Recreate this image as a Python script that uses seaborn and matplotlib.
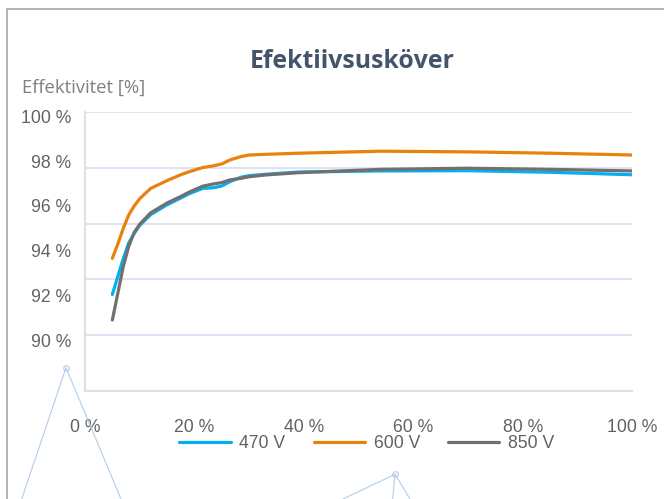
import numpy as np
import pandas as pd
import matplotlib
matplotlib.use("Agg")
import matplotlib.pyplot as plt
import seaborn as sns
from matplotlib.lines import Line2D
from matplotlib.ticker import FixedLocator

# === Data ===
load = [5, 6, 7, 8, 9, 10, 12, 15, 17.5, 19, 21.5, 23.5, 25, 26.5, 28.5, 30, 33, 39, 54, 70, 85, 100]
eff_470 = [92.05, 92.85, 93.65, 94.35, 94.77, 95.13, 95.61, 96.05, 96.35, 96.54, 96.78, 96.81, 96.89,
           97.08, 97.28, 97.35, 97.41, 97.51, 97.56, 97.57, 97.50, 97.39]
eff_600 = [93.66, 94.3, 95.0, 95.6, 96.0, 96.32, 96.78, 97.13, 97.39, 97.52, 97.71, 97.79, 97.87,
           98.05, 98.2, 98.27, 98.3, 98.35, 98.44, 98.41, 98.35, 98.27]
eff_850 = [90.91, 92.1, 93.3, 94.2, 94.82, 95.18, 95.69, 96.13, 96.42, 96.61, 96.88, 96.98, 97.04,
           97.16, 97.23, 97.3, 97.38, 97.48, 97.63, 97.68, 97.63, 97.56]
series = ["470 V", "600 V", "850 V"]
colors = ["#00B0F0", "#E8820C", "#736F6F"]

x_ticks = [0, 20, 40, 60, 80, 100]
y_ticks = [100, 98, 96, 94, 92, 90]

df = pd.DataFrame({
    "Last": load * 3,
    "Effektivitet": eff_470 + eff_600 + eff_850,
    "Spänning": [s for s in series for _ in load],
})

# === Plot ===
sns.set_theme(style="white")
plt.rcParams["font.family"] = ["Liberation Sans", "DejaVu Sans"]

fig = plt.figure(figsize=(6.64, 4.99), dpi=100)
ax = fig.add_axes([0.128, 0.2164, 0.824, 0.5592])

sns.lineplot(data=df, x="Last", y="Effektivitet", hue="Spänning", palette=colors,
             linewidth=2.3, ax=ax, legend=False)

ylo, yhi = 87.74, 100.19
ax.set_xlim(0, 100)
ax.set_ylim(ylo, yhi)

ax.set_xticks(x_ticks)
ax.set_xticklabels([f"{t} %" for t in x_ticks])
ax.set_yticks(y_ticks)
ax.set_yticklabels([f"{t} %" for t in y_ticks])
ax.yaxis.set_minor_locator(FixedLocator(np.linspace(ylo, yhi, 6)[1:]))
ax.grid(False)
ax.grid(which="minor", axis="y", color="#DCE3F2", linewidth=1.5)
ax.tick_params(axis="x", length=0, pad=20, labelsize=12.7, labelcolor="#626262")
ax.tick_params(axis="y", which="both", length=0, pad=10, labelsize=12.7, labelcolor="#626262")
ax.set_xlabel("")
ax.set_ylabel("")

for side in ["top", "right"]:
    ax.spines[side].set_visible(False)
for side in ["left", "bottom"]:
    ax.spines[side].set_color("#E0E0E0")
    ax.spines[side].set_linewidth(1.5)

# title and axis caption
fig.text(352 / 664, 1 - 61 / 499, "Efektiivsusköver", ha="center", va="center",
         fontsize=17.8, fontweight="bold", color="#44546A", family=["Open Sans", "DejaVu Sans"])
fig.text(22 / 664, 1 - 88 / 499, "Effektivitet [%]", ha="left", va="center",
         fontsize=13.3, color="#808080", family=["Open Sans", "DejaVu Sans"])

# legend
handles = [Line2D([0], [0], color=c, linewidth=2.3) for c in colors]
fig.legend(handles, series, loc="center", bbox_to_anchor=(367 / 664, 1 - 444 / 499), ncol=3,
           frameon=False, fontsize=12.7, labelcolor="#626262", handlelength=2.9,
           handletextpad=0.5, columnspacing=1.6)

# chart frame (left and top edges)
def px_line(xs, ys, **kw):
    fig.add_artist(Line2D([x / 664 for x in xs], [1 - y / 499 for y in ys],
                          transform=fig.transFigure, **kw))

px_line([7.3, 7.3, 664], [499, 9, 9], color="#A6A6A6", linewidth=1.2)

# stray connector shapes at the bottom
deco = "#B4CDEA"
px_line([21.7, 66, 121], [499, 367.7, 499], color=deco, linewidth=0.8)
px_line([343, 395, 410], [499, 474.3, 499], color=deco, linewidth=0.8)
px_line([395, 392.7], [474.3, 499], color=deco, linewidth=0.8)
for cx, cy in [(66, 367.7), (395, 474.3)]:
    px_line([cx], [cy], marker="o", markersize=4, markerfacecolor="none",
            markeredgecolor=deco, markeredgewidth=0.8, linestyle="none")

fig.savefig("out.png", dpi=100)
